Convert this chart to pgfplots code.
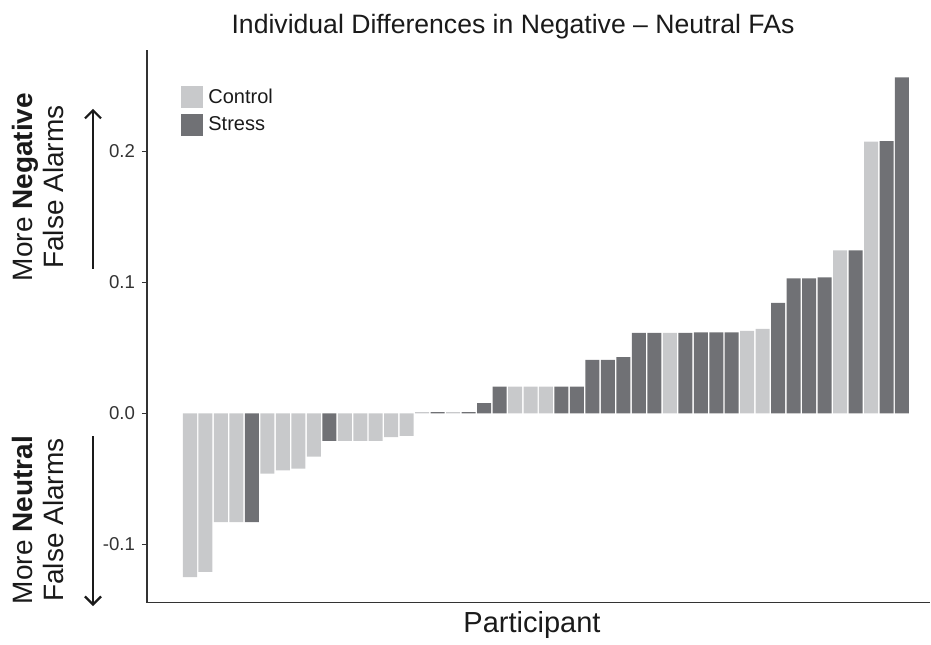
\documentclass[border=0pt]{standalone}
\usepackage{fontspec}
\setmainfont{Liberation Sans}
\usepackage{pgfplots}
\pgfplotsset{compat=1.18}
\usetikzlibrary{arrows.meta}

\definecolor{ctrl}{HTML}{C8C9CB}
\definecolor{strs}{HTML}{707175}
\definecolor{axgray}{HTML}{333333}
\definecolor{txt}{HTML}{1A1A1A}

\begin{document}
\begin{tikzpicture}
% page frame (931 x 638 px at 0.5pt per px)
\path (-73.5pt,-17.75pt) rectangle (392pt,301.25pt);

\begin{axis}[
    at={(0,0)}, anchor=south west,
    scale only axis, width=391.5pt, height=276.25pt,
    xmin=-1.778, xmax=48.81,
    ymin=-0.1443, ymax=0.2775,
    axis lines=left,
    axis line style={-, draw=axgray, line width=0.9pt},
    xtick=\empty,
    ytick={-0.1,0,0.1,0.2},
    /pgf/number format/fixed,
    /pgf/number format/fixed zerofill,
    /pgf/number format/precision=1,
    /pgf/number format/assume math mode=true,
    tick label style={font=\fontsize{9.3}{10}\selectfont, text=axgray},
    tick align=outside, major tick length=2.5pt,
    tick style={draw=axgray, line width=0.9pt},
    ybar, bar width=0.905,
    legend style={at={(0.0434,0.9348)}, anchor=north west,
        draw=none, fill=none, inner sep=0pt, row sep=3pt,
        font=\fontsize{10}{12}\selectfont, text=txt,
        nodes={inner ysep=0pt, inner xsep=2.5pt}},
    legend cell align=left,
    legend image code/.code={\fill[#1] (0pt,-5.5pt) rectangle (11pt,5.5pt);},
]
% Control participants
\addplot[fill=ctrl, draw=none, bar shift=0pt] coordinates {
    (1,-0.125) (2,-0.121) (3,-0.083) (4,-0.083) (6,-0.046) (7,-0.0435)
    (8,-0.042) (9,-0.033) (11,-0.021) (12,-0.021) (13,-0.021) (14,-0.018)
    (15,-0.017) (16,0.001) (18,0.001) (22,0.0205) (23,0.0205) (24,0.0205)
    (32,0.0615) (37,0.063) (38,0.0645) (43,0.1246) (45,0.2075)
};
\addlegendentry{Control}
% Stress participants
\addplot[fill=strs, draw=none, bar shift=0pt] coordinates {
    (5,-0.083) (10,-0.021) (17,0.001) (19,0.001) (20,0.008) (21,0.0205)
    (25,0.0205) (26,0.0205) (27,0.041) (28,0.041) (29,0.043) (30,0.0615)
    (31,0.0615) (33,0.0615) (34,0.062) (35,0.062) (36,0.062) (39,0.0845)
    (40,0.1032) (41,0.1032) (42,0.104) (44,0.1246) (46,0.208) (47,0.2566)
};
\addlegendentry{Stress}
\end{axis}

% title and x label
\node[anchor=base, text=txt, font=\fontsize{13.3}{16}\selectfont] at (183pt,284.25pt)
    {Individual Differences in Negative – Neutral FAs};
\node[anchor=base, text=txt, font=\fontsize{14.5}{16}\selectfont] at (192.5pt,-14.75pt)
    {Participant};

% direction labels on the left
\node[rotate=90, align=center, inner sep=0pt, text=txt,
      font=\fontsize{14}{15.5}\selectfont] at (-54.5pt,207.75pt)
    {More \textbf{Negative}\\False Alarms};
\node[rotate=90, align=center, inner sep=0pt, text=txt,
      font=\fontsize{14}{15.5}\selectfont] at (-54.5pt,41.25pt)
    {More \textbf{Neutral}\\False Alarms};
\draw[txt, line width=1.1pt, -{Straight Barb[length=4pt,width=8pt]}]
    (-27pt,166.9pt) -- (-27pt,246.85pt);
\draw[txt, line width=1.1pt, -{Straight Barb[length=4pt,width=8pt]}]
    (-27pt,83.25pt) -- (-27pt,-1.75pt);
\end{tikzpicture}
\end{document}
